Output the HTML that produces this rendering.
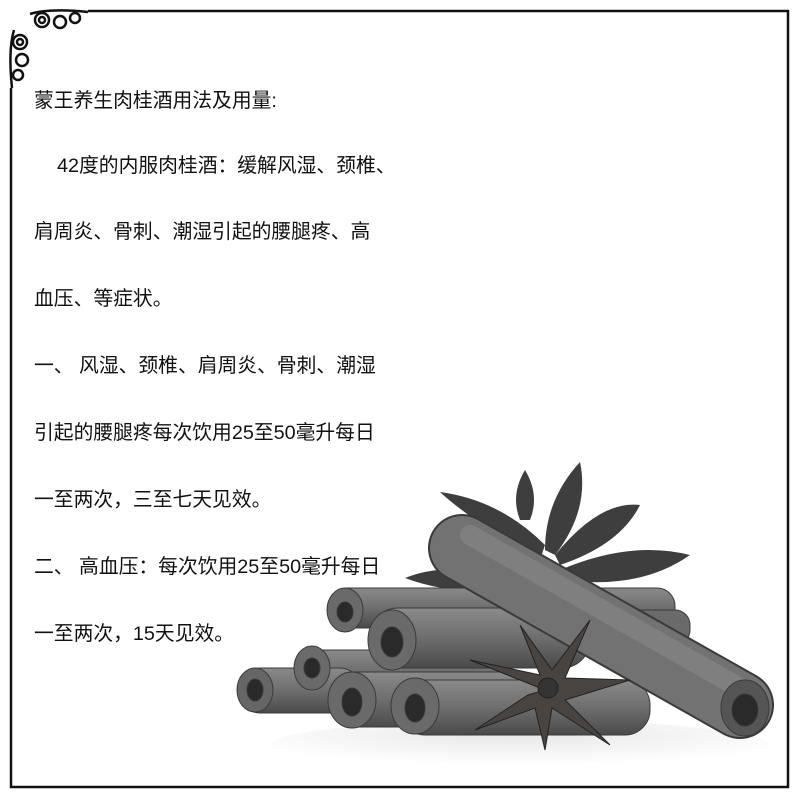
<!DOCTYPE html>
<html><head><meta charset="utf-8"><style>
html,body{margin:0;padding:0;background:#fff}
#wrap{position:relative;width:800px;height:800px;overflow:hidden;background:#fff}
.t{position:absolute;left:34px;font-family:"Liberation Sans","Noto Sans CJK SC",sans-serif;font-size:19.8px;color:#111;white-space:nowrap;line-height:24px}
</style></head><body>
<div id="wrap">
<svg width="800" height="800" style="position:absolute;left:0;top:0">
<defs>
<linearGradient id="g1" x1="0" y1="0" x2="0" y2="1"><stop offset="0" stop-color="#8a8a8a"/><stop offset="0.5" stop-color="#6e6e6e"/><stop offset="1" stop-color="#4a4a4a"/></linearGradient>
<radialGradient id="ref" cx="0.5" cy="0.3" r="0.6"><stop offset="0" stop-color="#ddd"/><stop offset="1" stop-color="#fff"/></radialGradient>
</defs>
<rect x="11" y="11" width="777" height="776" fill="none" stroke="#111" stroke-width="2.5"/>
<g fill="none" stroke="#111" stroke-width="2.5">
<rect x="8" y="8" width="80" height="22" fill="#fff" stroke="none"/>
<rect x="8" y="8" width="25" height="80" fill="#fff" stroke="none"/>
<circle cx="42" cy="20" r="7"/><circle cx="42" cy="20" r="3"/>
<circle cx="60" cy="22" r="6"/><circle cx="75" cy="18" r="5"/>
<path d="M30 14 Q50 8 88 12"/>
<circle cx="20" cy="42" r="7"/><circle cx="20" cy="42" r="3"/>
<circle cx="22" cy="60" r="6"/><circle cx="18" cy="75" r="5"/>
<path d="M14 30 Q8 50 12 88"/>
</g>
<ellipse cx="520" cy="745" rx="250" ry="25" fill="url(#ref)" opacity="0.7"/>
<g fill="#3e3e3e">
<path d="M540 560 Q470 520 440 492 Q500 500 545 545 Z"/>
<path d="M545 550 Q545 500 580 462 Q590 510 555 555 Z"/>
<path d="M555 555 Q600 500 640 505 Q620 545 560 565 Z"/>
<path d="M560 570 Q630 540 690 555 Q640 590 565 580 Z"/>
<path d="M500 580 Q450 560 405 578 Q450 595 505 590 Z"/>
<path d="M520 520 Q510 495 525 470 Q540 495 530 520 Z"/>
</g>
<g stroke="#3a3a3a" stroke-width="1">
<rect x="330" y="588" width="345" height="40" rx="18" fill="url(#g1)"/>
<rect x="610" y="610" width="80" height="35" rx="15" fill="#6a6a6a"/>
<rect x="300" y="650" width="200" height="45" rx="20" fill="url(#g1)"/>
<rect x="240" y="668" width="120" height="45" rx="20" fill="url(#g1)"/>
<rect x="330" y="672" width="200" height="55" rx="25" fill="url(#g1)"/>
<rect x="400" y="680" width="250" height="55" rx="25" fill="url(#g1)"/>
<rect x="370" y="608" width="220" height="60" rx="28" fill="url(#g1)"/>
<line x1="462" y1="548" x2="740" y2="705" stroke="#3a3a3a" stroke-width="68" stroke-linecap="round"/>
<line x1="462" y1="548" x2="740" y2="705" stroke="#727272" stroke-width="64" stroke-linecap="round"/>
<line x1="470" y1="535" x2="740" y2="688" stroke="#888" stroke-width="20" stroke-linecap="round" opacity="0.6"/>
<ellipse cx="745" cy="708" rx="24" ry="28" fill="#555"/><ellipse cx="745" cy="710" rx="13" ry="16" fill="#2a2a2a"/>
<ellipse cx="255" cy="690" rx="18" ry="22" fill="#666"/><ellipse cx="255" cy="690" rx="8" ry="11" fill="#2a2a2a"/>
<ellipse cx="312" cy="668" rx="18" ry="22" fill="#6a6a6a"/><ellipse cx="312" cy="668" rx="8" ry="10" fill="#2a2a2a"/>
<ellipse cx="345" cy="610" rx="18" ry="22" fill="#6a6a6a"/><ellipse cx="345" cy="612" rx="8" ry="10" fill="#2a2a2a"/>
<ellipse cx="392" cy="640" rx="24" ry="30" fill="#6a6a6a"/><ellipse cx="392" cy="642" rx="11" ry="15" fill="#2a2a2a"/>
<ellipse cx="352" cy="700" rx="24" ry="28" fill="#6a6a6a"/><ellipse cx="352" cy="702" rx="10" ry="14" fill="#2a2a2a"/>
<ellipse cx="415" cy="706" rx="24" ry="28" fill="#6a6a6a"/><ellipse cx="415" cy="708" rx="10" ry="14" fill="#2a2a2a"/>
</g>
<g fill="#4a4440" stroke="#222" stroke-width="1">
<path d="M545 690 L470 660 L540 675 L520 625 L552 670 L590 620 L565 678 L630 680 L565 700 L610 745 L552 708 L545 750 L535 708 L475 730 L528 695 Z"/>
<circle cx="548" cy="688" r="10" fill="#333"/>
</g>
</svg>
<div class="t" style="top:89px">蒙王养生肉桂酒用法及用量:</div>
<div class="t" style="top:154px;left:57px">42度的内服肉桂酒：缓解风湿、颈椎、</div>
<div class="t" style="top:220px">肩周炎、骨刺、潮湿引起的腰腿疼、高</div>
<div class="t" style="top:287px">血压、等症状。</div>
<div class="t" style="top:354px">一、 风湿、颈椎、肩周炎、骨刺、潮湿</div>
<div class="t" style="top:421px">引起的腰腿疼每次饮用25至50毫升每日</div>
<div class="t" style="top:488px">一至两次，三至七天见效。</div>
<div class="t" style="top:555px">二、 高血压：每次饮用25至50毫升每日</div>
<div class="t" style="top:622px">一至两次，15天见效。</div>
</div>
</body></html>
